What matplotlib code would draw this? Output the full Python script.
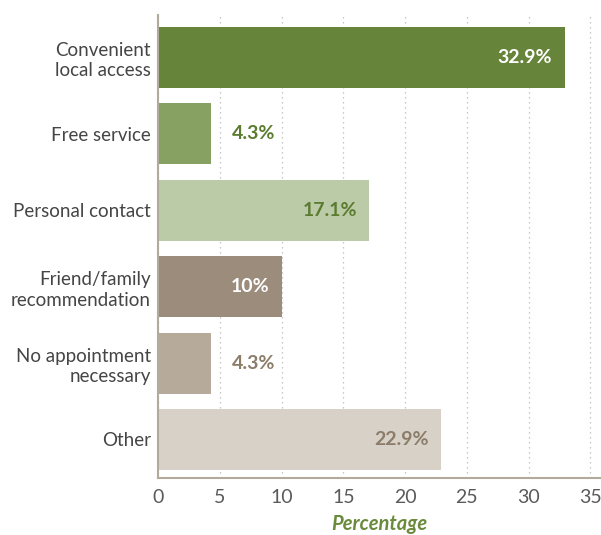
import matplotlib
matplotlib.use('Agg')
import matplotlib.pyplot as plt

reasons = ["Convenient\nlocal access", "Free service", "Personal contact",
           "Friend/family\nrecommendation", "No appointment\nnecessary", "Other"]
percent = [32.9, 4.3, 17.1, 10, 4.3, 22.9]
pct_text = ["32.9%", "4.3%", "17.1%", "10%", "4.3%", "22.9%"]

bar_colors = ["#67843b", "#87a163", "#bbcaa7", "#9b8c7c", "#b6aa9b", "#d8d1c7"]
text_colors = ["white", "#5b7b2f", "#5b7b2f", "white", "#8c7c6a", "#8c7c6a"]
inside = [True, False, True, True, False, True]

plt.rcParams['font.family'] = ['Lato', 'DejaVu Sans']

fig = plt.figure(figsize=(6.01, 5.35), dpi=100)
ax = fig.add_axes([158 / 601, 57 / 535, 443 / 601, 463 / 535])

y = list(range(len(reasons)))
ax.barh(y, percent, height=0.8, color=bar_colors, zorder=2)

for i, v in enumerate(percent):
    if inside[i]:
        ax.annotate(pct_text[i], (v, i), xytext=(-9, 0), textcoords='offset points',
                    ha='right', va='center', color=text_colors[i],
                    fontsize=14, fontweight='bold', zorder=3)
    else:
        ax.annotate(pct_text[i], (v, i), xytext=(15, 0), textcoords='offset points',
                    ha='left', va='center', color=text_colors[i],
                    fontsize=14, fontweight='bold', zorder=3)

ax.set_yticks(y)
ax.set_yticklabels(reasons, fontsize=13.5, color="#454545", linespacing=1.25)
ax.set_ylim(5.504, -0.556)
ax.set_xlim(0, 35.85)
ax.set_xticks([0, 5, 10, 15, 20, 25, 30, 35])
ax.set_xticklabels(["0", "5", "10", "15", "20", "25", "30", "35"],
                   fontsize=14, color="#5a5a5a")
ax.tick_params(axis='x', length=0, pad=8)
ax.tick_params(axis='y', length=0, pad=5)

ax.grid(axis='x', linestyle=(0, (1, 3)), color="#b8b8b8", linewidth=0.9, zorder=0)
ax.spines['top'].set_visible(False)
ax.spines['right'].set_visible(False)
ax.spines['left'].set_color("#b3aa9e")
ax.spines['bottom'].set_color("#b3aa9e")
ax.spines['left'].set_linewidth(1.5)
ax.spines['bottom'].set_linewidth(1.5)

ax.set_xlabel("Percentage", fontsize=14.5, color="#6a8a3c", fontstyle='italic',
              fontweight='bold', labelpad=6)

fig.savefig("out.png", dpi=100)
